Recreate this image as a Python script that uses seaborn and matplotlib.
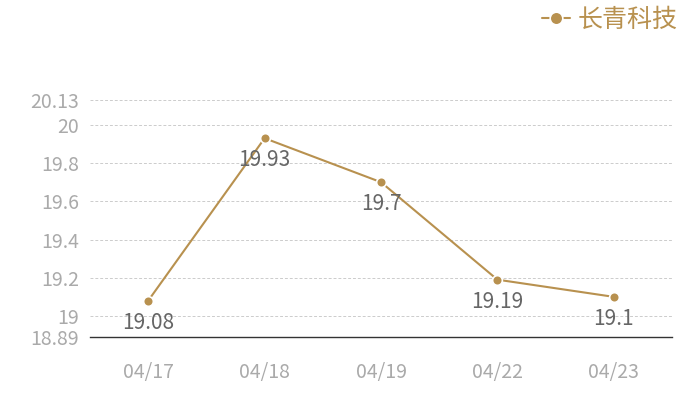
import matplotlib.pyplot as plt
import seaborn as sns
import pandas as pd

dates = ["04/17", "04/18", "04/19", "04/22", "04/23"]
prices = [19.08, 19.93, 19.7, 19.19, 19.1]
price_labels = ["19.08", "19.93", "19.7", "19.19", "19.1"]
y_ticks = [18.89, 19, 19.2, 19.4, 19.6, 19.8, 20, 20.13]
y_tick_labels = ["18.89", "19", "19.2", "19.4", "19.6", "19.8", "20", "20.13"]
series_name = "长青科技"

GOLD = "#b8914f"

sns.set_style("white")
plt.rcParams["font.family"] = ["Noto Sans CJK SC", "DejaVu Sans"]

df = pd.DataFrame({"date": dates, "price": prices})

fig = plt.figure(figsize=(7, 4), dpi=100)
ax = fig.add_axes([0.1286, 0.1575, 0.8314, 0.5925])

sns.lineplot(data=df, x="date", y="price", ax=ax, color=GOLD, linewidth=1.5,
             marker="o", markersize=7, markeredgecolor="white", markeredgewidth=1.2,
             label=series_name, sort=False)

for i, (v, lab) in enumerate(zip(prices, price_labels)):
    ax.annotate(lab, (i, v), xytext=(0, -16), textcoords="offset points",
                ha="center", va="center", fontsize=15, color="#666666")

ax.set_xlim(-0.5, len(dates) - 0.5)
ax.set_ylim(18.89, 20.13)
ax.set_yticks(y_ticks)
ax.set_yticklabels(y_tick_labels)
ax.set_xlabel("")
ax.set_ylabel("")

ax.grid(axis="y", color="#cccccc", linestyle=(0, (3, 2)), linewidth=0.7)
ax.grid(axis="x", visible=False)
for s in ["top", "right", "left"]:
    ax.spines[s].set_visible(False)
ax.spines["bottom"].set_color("#333333")
ax.spines["bottom"].set_linewidth(1)
ax.tick_params(axis="y", length=0, labelsize=14, labelcolor="#aaaaaa", pad=8)
ax.tick_params(axis="x", length=0, labelsize=14, labelcolor="#aaaaaa", pad=18)

leg = ax.legend(loc="upper right", bbox_to_anchor=(1.026, 1.435), frameon=False,
                fontsize=18, handlelength=1.1, handletextpad=0.3, borderaxespad=0,
                markerscale=1.3)
for t in leg.get_texts():
    t.set_color(GOLD)

fig.savefig("out.png", dpi=100)
